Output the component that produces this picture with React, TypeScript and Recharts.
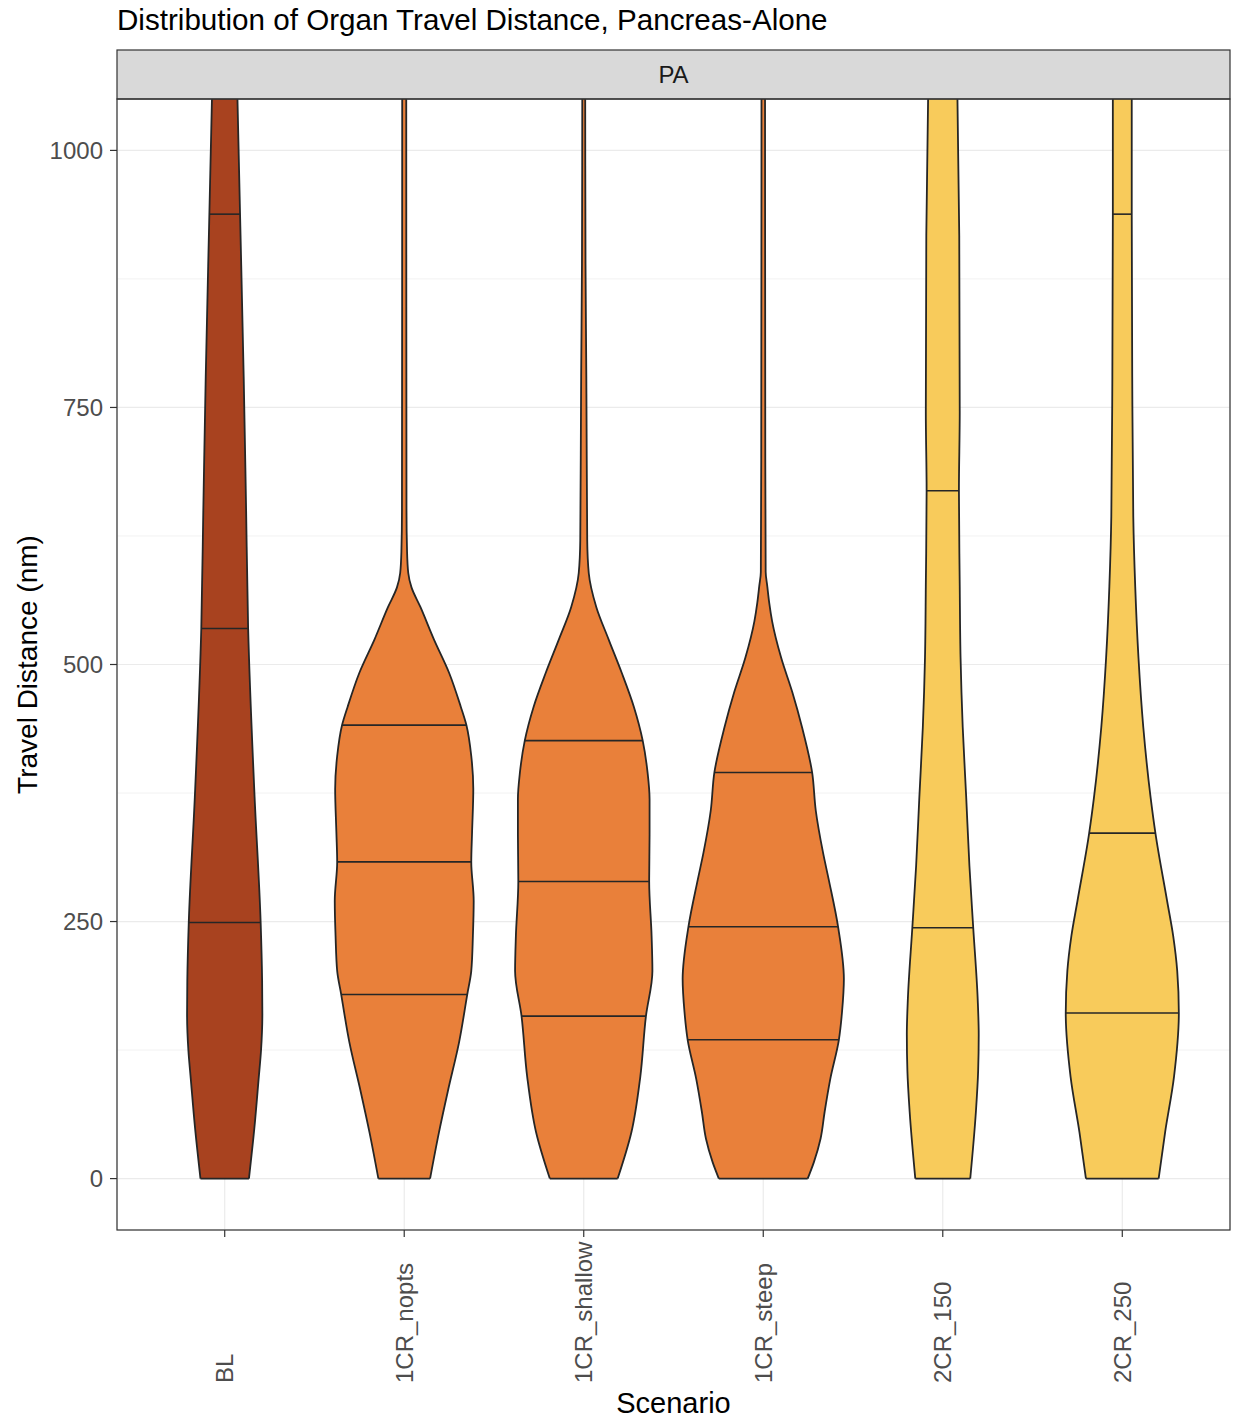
import { Area, CartesianGrid, ComposedChart, Line, XAxis, YAxis } from "recharts";

const SCENARIOS = ["BL", "1CR_nopts", "1CR_shallow", "1CR_steep", "2CR_150", "2CR_250"];
const SCENARIO_GROUP = ["BL", "1CR", "1CR", "1CR", "2CR", "2CR"];
const Y_TICKS = [0, 250, 500, 750, 1000];
const Y_MINOR = [125, 375, 625, 875];

// violin outlines: [travel distance, half width] (100 = widest violin)
const BL_DENSITY: [number, number][] = [
  [0, 30], [49, 36.7], [97, 42], [125, 45], [160, 46.6], [193, 46.3], [249, 44.5], [371, 37],
  [535, 29], [650, 26.5], [780, 23.5], [938, 19], [1060, 15.5],
];
const NOPTS_DENSITY: [number, number][] = [
  [0, 32], [45, 43], [85, 54], [133, 68], [179, 78], [202, 83], [236, 85], [270, 86],
  [308, 83], [337, 84], [379, 85.5], [411, 83], [441, 77], [459, 70], [492, 55.5], [524, 37],
  [556, 20], [575, 9], [589, 5], [610, 3.5], [650, 2.8], [1060, 2.5],
];
const SHALLOW_DENSITY: [number, number][] = [
  [0, 42], [45, 59], [99, 70], [158, 77], [202, 85], [236, 84], [289, 81], [337, 81.5],
  [369, 81.5], [395, 79], [426, 73], [459, 62], [492, 47], [524, 31], [556, 15.5],
  [589, 6.2], [621, 4.3], [700, 3.7], [780, 3.2], [890, 2.2], [1060, 1.8],
];
const STEEP_DENSITY: [number, number][] = [
  [0, 55], [16, 62.7], [39, 71], [65, 76], [97, 83], [135, 93.6], [162, 97.5], [194, 99.8],
  [245, 92.6], [291, 81], [317, 74], [358, 65], [395, 60.5], [439, 48], [473, 36], [507, 22],
  [542, 11], [560, 7.4], [576, 5], [590, 3], [700, 2.5], [1060, 2.2],
];
const CR150_DENSITY: [number, number][] = [
  [0, 34], [65, 41], [105, 43.8], [140, 44.5], [175, 43.2], [244, 37.7], [304, 33], [371, 29],
  [439, 24.7], [507, 22], [576, 21], [669, 20], [746, 21], [917, 20.4], [1060, 18],
];
const CR250_DENSITY: [number, number][] = [
  [0, 45], [45, 53], [99, 64], [161, 70], [202, 68], [236, 63], [270, 55.5], [336, 41],
  [371, 35], [439, 26], [507, 20], [576, 16], [644, 13.6], [780, 12.3], [938, 11.7], [1060, 11.7],
];

const DENSITIES = [BL_DENSITY, NOPTS_DENSITY, SHALLOW_DENSITY, STEEP_DENSITY, CR150_DENSITY, CR250_DENSITY];

// draw_quantiles = c(.25, .5, .75); 2CR_150's upper quartile is above the visible range
const QUANTILES = [
  [249, 535, 938],
  [179, 308, 441],
  [158, 289, 426],
  [135, 245, 395],
  [244, 669],
  [161, 336, 938],
];

const W = 1236;
const H = 1420;
const PLOT = { left: 117, top: 99, right: 1230, bottom: 1230 };
const HALF_UNIT = 0.45 / 100;
const FILLS: Record<string, string> = { BL: "#A8421F", "1CR": "#E9803A", "2CR": "#F8CB5B" };
const OUTLINE = "#262626";
const TEXT_GREY = "#4D4D4D";
const FONT = '"Liberation Sans", Arial, sans-serif';

function violinRows(density: [number, number][], i: number) {
  const c = i + 1;
  return density.map(([v, w]) => ({ v, range: [c - w * HALF_UNIT, c + w * HALF_UNIT] }));
}

function segmentRows(density: [number, number][], i: number, v: number) {
  const c = i + 1;
  const row = density.find((d) => d[0] === v);
  const w = row ? row[1] : 0;
  return [
    { v, x: c - w * HALF_UNIT },
    { v, x: c + w * HALF_UNIT },
  ];
}

function ScenarioTick({ x, y, payload }: any) {
  const label = SCENARIOS[Math.round(payload.value) - 1] ?? "";
  const by = y + 144;
  return (
    <text
      x={x}
      y={by}
      transform={`rotate(-90 ${x} ${by})`}
      textAnchor="start"
      dominantBaseline="central"
      fontSize={24}
      fill={TEXT_GREY}
    >
      {label}
    </text>
  );
}

export default function App() {
  const segments: { key: string; data: { v: number; x: number }[] }[] = [];
  DENSITIES.forEach((d, i) => {
    segments.push({ key: `base-${i}`, data: segmentRows(d, i, 0) });
    QUANTILES[i].forEach((q) => segments.push({ key: `q-${i}-${q}`, data: segmentRows(d, i, q) }));
  });

  return (
    <div style={{ position: "absolute", left: 0, top: 0, width: W, height: H, background: "#fff", fontFamily: FONT }}>
      <ComposedChart
        width={W}
        height={H}
        layout="vertical"
        margin={{ top: PLOT.top, right: W - PLOT.right, bottom: 0, left: 0 }}
        style={{ fontFamily: FONT }}
      >
        <CartesianGrid horizontalValues={Y_MINOR} vertical={false} stroke="#F2F2F2" strokeWidth={1} />
        <CartesianGrid stroke="#EBEBEB" strokeWidth={1.2} />
        <XAxis
          type="number"
          dataKey="x"
          domain={[0.4, 6.6]}
          ticks={[1, 2, 3, 4, 5, 6]}
          allowDataOverflow
          height={H - PLOT.bottom}
          tickSize={7}
          tickMargin={2}
          axisLine={false}
          tickLine={{ stroke: "#333333", strokeWidth: 1.2 }}
          tick={<ScenarioTick />}
          interval={0}
          label={{ value: "Scenario", position: "insideBottom", offset: 7, fontSize: 29, fill: "#000" }}
        />
        <YAxis
          type="number"
          dataKey="v"
          domain={[-50, 1050]}
          ticks={Y_TICKS}
          reversed
          allowDataOverflow
          width={PLOT.left}
          tickSize={7}
          tickMargin={7}
          axisLine={false}
          tickLine={{ stroke: "#333333", strokeWidth: 1.2 }}
          tick={{ fontSize: 24, fill: TEXT_GREY }}
          interval={0}
          label={{
            value: "Travel Distance (nm)",
            angle: -90,
            position: "insideLeft",
            offset: 27,
            fontSize: 28,
            fill: "#000",
            style: { textAnchor: "middle" },
          }}
        />
        {DENSITIES.map((d, i) => (
          <Area
            key={SCENARIOS[i]}
            data={violinRows(d, i)}
            dataKey="range"
            type="monotone"
            fill={FILLS[SCENARIO_GROUP[i]]}
            fillOpacity={1}
            stroke={OUTLINE}
            strokeWidth={1.8}
            isAnimationActive={false}
            activeDot={false}
          />
        ))}
        {segments.map((s) => (
          <Line
            key={s.key}
            data={s.data}
            dataKey="x"
            type="linear"
            stroke={OUTLINE}
            strokeWidth={1.6}
            dot={false}
            activeDot={false}
            isAnimationActive={false}
          />
        ))}
      </ComposedChart>
      <svg
        width={W}
        height={H}
        style={{ position: "absolute", left: 0, top: 0, pointerEvents: "none", fontFamily: FONT }}
      >
        <text x={PLOT.left} y={30} fontSize={29.6} fill="#000">
          Distribution of Organ Travel Distance, Pancreas-Alone
        </text>
        <rect x={PLOT.left} y={50} width={PLOT.right - PLOT.left} height={PLOT.top - 50} fill="#D9D9D9" stroke="#333333" strokeWidth={1.2} />
        <text
          x={(PLOT.left + PLOT.right) / 2}
          y={(50 + PLOT.top) / 2}
          textAnchor="middle"
          dominantBaseline="central"
          fontSize={24}
          fill="#1A1A1A"
        >
          PA
        </text>
        <rect
          x={PLOT.left}
          y={PLOT.top}
          width={PLOT.right - PLOT.left}
          height={PLOT.bottom - PLOT.top}
          fill="none"
          stroke="#333333"
          strokeWidth={1.2}
        />
      </svg>
    </div>
  );
}
